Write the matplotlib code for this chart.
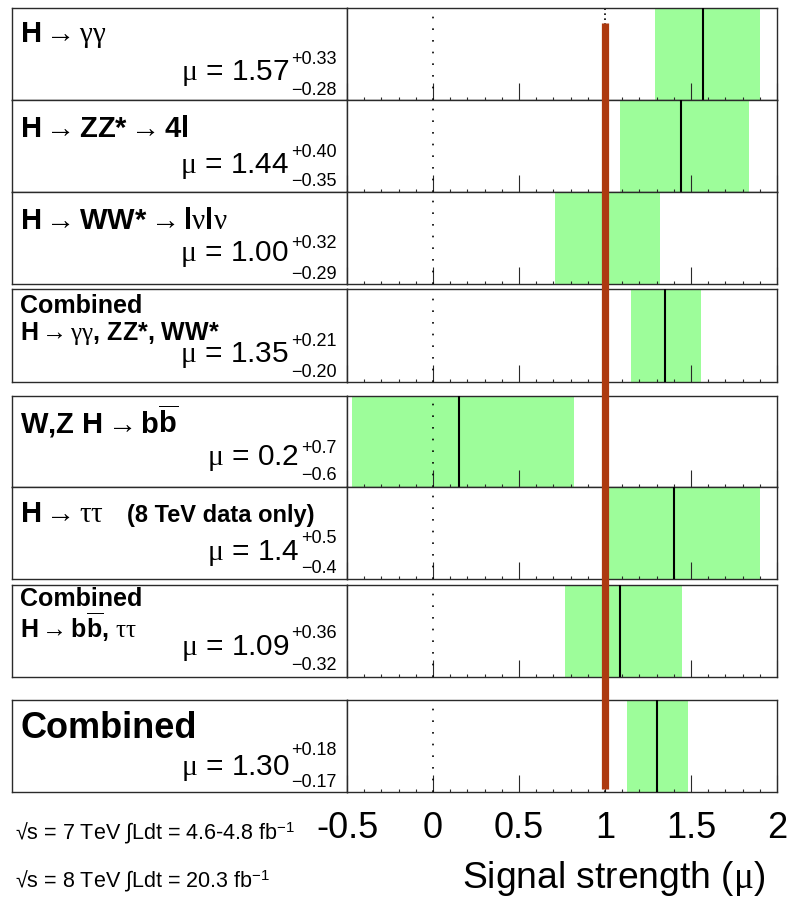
import matplotlib
matplotlib.use('Agg')
import matplotlib.pyplot as plt
from matplotlib.lines import Line2D
from matplotlib.transforms import blended_transform_factory
from matplotlib.ticker import MultipleLocator, FuncFormatter

plt.rcParams['font.family'] = ['Liberation Sans', 'DejaVu Sans']
plt.rcParams['mathtext.fontset'] = 'custom'
plt.rcParams['mathtext.rm'] = 'Liberation Sans'
plt.rcParams['mathtext.bf'] = 'Liberation Sans:bold'
plt.rcParams['mathtext.it'] = 'Liberation Serif'
plt.rcParams['axes.unicode_minus'] = False

# ---------------- data ----------------
channel_titles = [
    [r"H$\rightarrow\gamma\gamma$"],
    [r"H$\rightarrow$ZZ*$\rightarrow$4l"],
    [r"H$\rightarrow$WW*$\rightarrow$l$\nu$l$\nu$"],
    ["Combined", r"H$\rightarrow\gamma\gamma$, ZZ*, WW*"],
    [r"W,Z H$\rightarrow$b$\overline{\mathbf{b}}$"],
    [r"H$\rightarrow\tau\tau$"],
    ["Combined", r"H$\rightarrow$b$\overline{\mathbf{b}}$, $\tau\tau$"],
    ["Combined"],
]
mu_text = ["1.57", "1.44", "1.00", "1.35", "0.2", "1.4", "1.09", "1.30"]
up_text = ["+0.33", "+0.40", "+0.32", "+0.21", "+0.7", "+0.5", "+0.36", "+0.18"]
dn_text = ["\u22120.28", "\u22120.35", "\u22120.29", "\u22120.20", "\u22120.6",
           "\u22120.4", "\u22120.32", "\u22120.17"]

mu_val = [1.57, 1.44, 1.00, 1.35, 0.15, 1.40, 1.09, 1.30]
err_up = [0.33, 0.40, 0.32, 0.21, 0.67, 0.50, 0.36, 0.18]
err_dn = [0.28, 0.35, 0.29, 0.20, 0.62, 0.40, 0.32, 0.17]

sm_value = 1.0
x_range = (-0.5, 2.0)
tick_labels = ["-0.5", "0", "0.5", "1", "1.5", "2"]
lumi_lines = ["\u221as = 7 TeV \u222bLdt = 4.6-4.8 fb$^{-1}$",
              "\u221as = 8 TeV \u222bLdt = 20.3 fb$^{-1}$"]
x_title = r"Signal strength ($\mu$)"
extra_note = "(8 TeV data only)"

# ---------------- layout (pixels) ----------------
W, H = 788, 900
fig = plt.figure(figsize=(W / 100, H / 100), dpi=100)

def fx(px):
    return px / W

def fy(py):
    return 1 - py / H

panel_top = [8, 100, 192, 289, 396, 487, 585, 700]
panel_bot = [100, 192, 284, 382, 487, 579, 677, 792]
x_left, x_mid, x_right = 12, 347, 777

title_specs = [  # (size, baseline) for each line
    [(21, 42)],
    [(21, 137)],
    [(21, 229)],
    [(18, 313), (18, 340)],
    [(21, 434)],
    [(21, 522)],
    [(18, 606), (18, 638)],
    [(26, 738)],
]
mu_off = [20, 19, 23, 20, 22, 19, 22, 17]
up_off = [36, 35, 36, 36, 34, 36, 39, 37]
dn_off = [5, 6, 5, 5, 7, 6, 7, 5]

green = '#9dfd9a'
red = '#ad3a10'
edge = '#2a2a2a'

renderer = fig.canvas.get_renderer()
axes_r = []
for i in range(len(mu_val)):
    t, b = panel_top[i], panel_bot[i]
    axl = fig.add_axes([fx(x_left), fy(b), fx(x_mid) - fx(x_left), (b - t) / H])
    axl.set_xticks([]); axl.set_yticks([])
    for s in axl.spines.values():
        s.set_linewidth(1.0); s.set_color(edge)

    ax = fig.add_axes([fx(x_mid), fy(b), fx(x_right) - fx(x_mid), (b - t) / H])
    ax.set_xlim(*x_range)
    ax.set_ylim(0, 1)
    ax.set_yticks([])
    for s in ax.spines.values():
        s.set_linewidth(1.0); s.set_color(edge)
    ax.xaxis.set_major_locator(MultipleLocator(0.5))
    ax.xaxis.set_minor_locator(MultipleLocator(0.1))
    ax.tick_params(axis='x', which='major', direction='in', length=12, width=0.8,
                   color=edge, top=False, bottom=True)
    ax.tick_params(axis='x', which='minor', direction='in', length=2.5, width=0.8,
                   color=edge, top=False, bottom=True)
    ax.axvspan(mu_val[i] - err_dn[i], mu_val[i] + err_up[i], color=green, lw=0, zorder=1)
    ax.axvline(mu_val[i], color='black', lw=1.5, zorder=3)
    ax.axvline(0, color='black', lw=1.2, ls=(0, (1, 6)), zorder=2)
    ax.axvline(sm_value, color='black', lw=1.2, ls=(0, (1, 2)), zorder=2)
    if i < len(mu_val) - 1:
        ax.set_xticklabels([])
    else:
        ax.xaxis.set_major_formatter(FuncFormatter(
            lambda v, p: tick_labels[int(round((v - x_range[0]) / 0.5))]
            if 0 <= round((v - x_range[0]) / 0.5) < len(tick_labels) else ""))
        ax.tick_params(axis='x', which='major', labelsize=26, pad=14)
    axes_r.append(ax)

    # titles
    for line, (sz, base) in zip(channel_titles[i], title_specs[i]):
        fig.text(fx(20), fy(base), line, fontsize=sz, fontweight='bold',
                 ha='left', va='baseline')
    if i == 5:
        fig.text(fx(127), fy(522), extra_note, fontsize=17, fontweight='bold',
                 ha='left', va='baseline')

    # mu text with asymmetric errors
    xr = 337
    tu = fig.text(fx(xr), fy(b - up_off[i]), up_text[i], fontsize=13,
                  ha='right', va='baseline')
    td = fig.text(fx(xr), fy(b - dn_off[i]), dn_text[i], fontsize=13,
                  ha='right', va='baseline')
    wmax = max(tu.get_window_extent(renderer).width, td.get_window_extent(renderer).width)
    fig.text(fx(xr - wmax - 2), fy(b - mu_off[i]), r"$\mu$ = " + mu_text[i],
             fontsize=21.5, ha='right', va='baseline')

# SM expectation bar spanning all panels
trans = blended_transform_factory(axes_r[-1].transData, fig.transFigure)
fig.add_artist(Line2D([sm_value, sm_value], [fy(789), fy(23)], transform=trans,
                      color=red, lw=5.2, solid_capstyle='butt', zorder=10))

# luminosity texts and axis title
fig.text(fx(15), fy(839), lumi_lines[0], fontsize=15.5, ha='left', va='baseline')
fig.text(fx(15), fy(887), lumi_lines[1], fontsize=15.5, ha='left', va='baseline')
fig.text(fx(765), fy(888), x_title, fontsize=26.8, ha='right', va='baseline')

fig.savefig('out.png', dpi=100)
